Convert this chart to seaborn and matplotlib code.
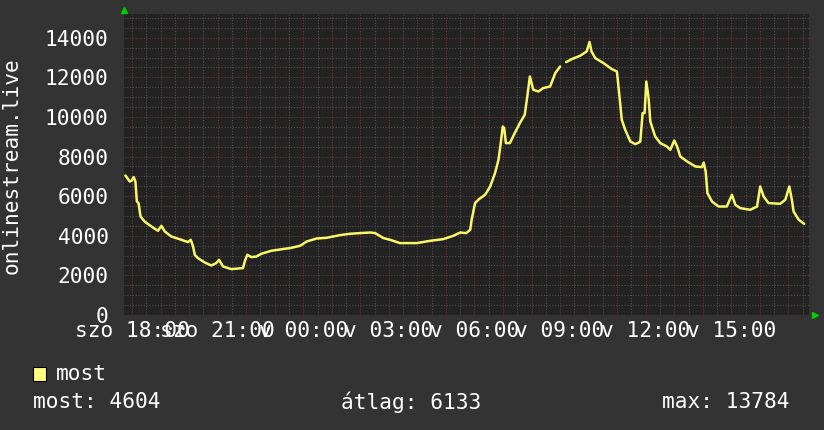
import pandas as pd
import matplotlib
matplotlib.use("Agg")
import matplotlib.pyplot as plt
import seaborn as sns

# hours counted from szo 18:00, viewers
hours_a = [-0.23, -0.08, -0.02, 0.06, 0.12, 0.17, 0.23, 0.30, 0.44, 0.68, 0.91, 1.03, 1.15,
           1.38, 1.73, 1.96, 2.06, 2.14, 2.20, 2.31, 2.55, 2.78, 2.95, 3.05, 3.19, 3.48,
           3.89, 3.95, 4.04, 4.18, 4.36, 4.53, 4.88, 5.35, 5.54, 5.89, 6.12, 6.47, 6.82,
           7.29, 7.64, 7.99, 8.34, 8.52, 8.81, 9.04, 9.39, 9.98, 10.45, 10.91, 11.26,
           11.50, 11.71, 11.85, 11.90, 12.02, 12.16, 12.37, 12.55, 12.72, 12.84, 12.92,
           12.99, 13.04, 13.10, 13.24, 13.41, 13.59, 13.76, 13.85, 13.94, 14.06, 14.24,
           14.41, 14.65, 14.83, 15.00]
most_a = [7045, 6742, 6777, 6964, 6742, 5732, 5651, 4974, 4722, 4469, 4252, 4505, 4217,
          3964, 3798, 3681, 3798, 3459, 3040, 2873, 2651, 2500, 2621, 2788, 2449, 2318,
          2369, 2702, 3040, 2924, 2954, 3091, 3242, 3343, 3378, 3495, 3712, 3863, 3899,
          4035, 4101, 4136, 4166, 4136, 3883, 3798, 3631, 3631, 3747, 3833, 4000,
          4166, 4136, 4303, 4808, 5651, 5853, 6070, 6489, 7166, 7838, 8681,
          9519, 9438, 8681, 8681, 9186, 9691, 10110, 11034, 12044, 11373, 11287,
          11459, 11540, 12216, 12549]

# after the short gap in the data
hours_b = [15.21, 15.41, 15.70, 15.93, 16.03, 16.10, 16.23, 16.52, 16.81, 16.99, 17.08,
           17.16, 17.28, 17.46, 17.63, 17.75, 17.81, 17.89, 17.96, 18.02, 18.10, 18.16,
           18.33, 18.51, 18.74, 18.86, 19.00, 19.10, 19.21, 19.45, 19.74, 19.97, 20.03,
           20.10, 20.16, 20.32, 20.55, 20.84, 21.02, 21.14, 21.31, 21.66, 21.90, 22.01,
           22.13, 22.30, 22.71, 22.89, 23.03, 23.12, 23.18, 23.36, 23.55]
most_b = [12771, 12923, 13090, 13307, 13784, 13307, 12973, 12721, 12418, 12297, 11034,
          9858, 9353, 8762, 8630, 8700, 8762, 10196, 10196, 11792, 10953, 9772,
          9014, 8681, 8510, 8343, 8813, 8510, 8004, 7752, 7499, 7469, 7701,
          7247, 6156, 5732, 5479, 5479, 6070, 5565, 5398, 5313, 5479, 6489,
          5984, 5651, 5616, 5818, 6489, 5818, 5227, 4808, 4604]

tick_hours = [0, 3, 6, 9, 12, 15, 18, 21]
tick_labels = ["szo 18:00", "szo 21:00", "v 00:00", "v 03:00",
               "v 06:00", "v 09:00", "v 12:00", "v 15:00"]
y_ticks = [0, 2000, 4000, 6000, 8000, 10000, 12000, 14000]

stat_labels = ["most: 4604", "átlag: 6133", "max: 13784"]

BG = "#333333"
CANVAS = "#222222"
LINE = "#f8f86a"
FONT = "DejaVu Sans Mono"
FS = 15.2


def draw():
    df = pd.DataFrame({
        "hour": hours_a + hours_b,
        "most": most_a + most_b,
        "seg": [0] * len(hours_a) + [1] * len(hours_b),
    })

    sns.set_style("dark")
    plt.rcParams["font.family"] = [FONT, "DejaVu Sans"]

    fig = plt.figure(figsize=(8.24, 4.30), dpi=100, facecolor=BG)
    W, H = 824, 430
    ax = fig.add_axes([124 / W, (H - 315) / H, 685 / W, 301 / H])
    ax.set_facecolor(CANVAS)

    # rrdtool style grid: grey dotted minor, red dotted major
    for h in [x * 0.5 for x in range(-1, 49)]:
        if h == int(h):
            continue
        ax.axvline(h, color="#505050", lw=0.8, ls=(0, (1, 1.5)), zorder=1)
    for v in range(500, 15500, 500):
        if v % 2000:
            ax.axhline(v, color="#505050", lw=0.8, ls=(0, (1, 1.5)), zorder=1)
    for h in range(0, 24):
        ax.axvline(h, color="#703434", lw=0.8, ls=(0, (1, 1.5)), zorder=1)
    for v in y_ticks[1:]:
        ax.axhline(v, color="#703434", lw=0.8, ls=(0, (1, 1.5)), zorder=1)

    sns.lineplot(data=df, x="hour", y="most", units="seg", estimator=None, sort=False,
                 color=LINE, lw=1.8, ax=ax, zorder=3)

    ax.set_xlim(-0.28, 23.72)
    ax.set_ylim(0, 15200)
    ax.set_xticks(tick_hours)
    ax.set_xticklabels(tick_labels)
    ax.set_yticks(y_ticks)
    ax.set_yticklabels([str(v) for v in y_ticks])
    ax.tick_params(axis="both", length=0, colors="white", labelsize=FS)
    ax.tick_params(axis="y", pad=11)
    ax.tick_params(axis="x", pad=4)
    ax.grid(False)
    for s in ax.spines.values():
        s.set_visible(False)
    ax.set_xlabel("")
    ax.set_ylabel("")

    fig.text(12 / W, 1 - 166 / H, "onlinestream.live", rotation=90, color="white",
             fontsize=FS, ha="center", va="center")

    # green arrows at the axis ends
    ax.plot([0.0], [1.012], marker="^", color="#00cc00", ms=5, transform=ax.transAxes,
            clip_on=False, zorder=5)
    ax.plot([1.009], [0.0], marker=">", color="#00cc00", ms=5, transform=ax.transAxes,
            clip_on=False, zorder=5)

    # legend block
    fig.patches.append(plt.Rectangle((33 / W, 1 - 381 / H), 13 / W, 14 / H,
                                     transform=fig.transFigure, facecolor="#ffff80",
                                     edgecolor="black", lw=0.8))
    fig.text(56 / W, 1 - 374 / H, "most", color="white", fontsize=FS, va="center")
    xs = [33, 341, 662]
    for x, t in zip(xs, stat_labels):
        fig.text(x / W, 1 - 402 / H, t, color="white", fontsize=FS, va="center")

    fig.savefig("out.png", dpi=100, facecolor=BG)
    plt.close(fig)


if __name__ == "__main__":
    draw()
